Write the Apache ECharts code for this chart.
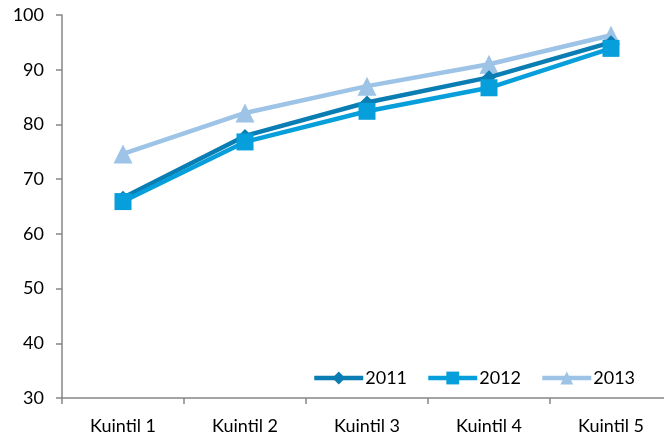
<!DOCTYPE html>
<html><head><meta charset="utf-8">
<script src="https://cdn.jsdelivr.net/npm/echarts@6/dist/echarts.min.js"></script>
<style>html,body{margin:0;padding:0;background:#fff;overflow:hidden;width:664px;height:436px}#c{width:672px;height:436px}</style>
</head><body><div id="c"></div>
<script>
var categories = ['Kuintil 1','Kuintil 2','Kuintil 3','Kuintil 4','Kuintil 5'];
var s2011 = [66.6, 77.9, 84.0, 88.6, 95.0];
var s2012 = [65.9, 76.8, 82.4, 86.7, 93.9];
var s2013 = [74.6, 82.1, 87.0, 91.0, 96.3];
var seriesNames = ['2011','2012','2013'];
var yTicks = {min:30, max:100, interval:10};

var FONT = 'Lato';
var chart = echarts.init(document.getElementById('c'), null, {renderer:'canvas'});
var axisColor = '#868686';
function mk(name, data, color, symbol, size, z){
  return {name:name, type:'line', data:data, symbol:symbol, symbolSize:size, z:z,
    lineStyle:{color:color, width:4.5}, itemStyle:{color:color}, animation:false};
}
chart.setOption({
  animation:false,
  textStyle:{fontFamily:FONT},
  grid:{left:62, top:15, right:0, bottom:38, containLabel:false},
  legend:{left:307, top:364, itemWidth:49, itemHeight:16, itemGap:19,
    lineStyle:{width:4.5},
    textStyle:{fontFamily:FONT, fontSize:18, color:'#000', padding:[0,0,0,-3]},
    data:seriesNames},
  xAxis:{type:'category', data:categories, boundaryGap:true,
    axisLine:{lineStyle:{color:axisColor, width:1.5}},
    axisTick:{show:true, length:6, lineStyle:{color:axisColor, width:1.5}},
    axisLabel:{color:'#000', fontSize:18, fontFamily:FONT, margin:19}},
  yAxis:{type:'value', min:yTicks.min, max:yTicks.max, interval:yTicks.interval,
    splitLine:{show:false},
    axisLine:{show:true, lineStyle:{color:axisColor, width:1.5}},
    axisTick:{show:true, length:6, lineStyle:{color:axisColor, width:1.5}},
    axisLabel:{color:'#000', fontSize:18, fontFamily:FONT, margin:18}},
  series:[
    mk(seriesNames[0], s2011, '#0A7DB2', 'diamond', 14, 3),
    mk(seriesNames[1], s2012, '#069FDB', 'rect', 17, 4),
    mk(seriesNames[2], s2013, '#9DC3E6', 'triangle', 19, 2)
  ]
});
</script></body></html>
